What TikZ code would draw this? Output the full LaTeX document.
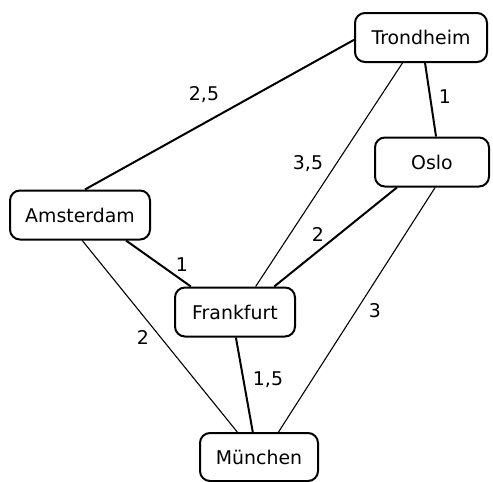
\documentclass[tikz,border=0pt]{standalone}
\usepackage{fontspec}
\setmainfont{DejaVu Sans}
\usepackage{tikz}
\usetikzlibrary{positioning}

\begin{document}
\begin{tikzpicture}[
  x={(0.5pt,0pt)},
  y={(0pt,-0.5pt)},
  city/.style={draw, line width=1pt, rounded corners=5pt, minimum height=24.5pt,
    inner sep=0pt, font=\fontsize{9.45}{11}\selectfont},
  fat/.style={line width=1pt},
  slim/.style={line width=0.55pt},
  wt/.style={font=\fontsize{9.45}{11}\selectfont, inner sep=0pt}
]
\useasboundingbox (0,0) rectangle (493,482);

\node[city, minimum width=66pt] (tro) at (421,37.5) {Trondheim};
\node[city, minimum width=57pt] (osl) at (432,162) {Oslo};
\node[city, minimum width=70pt] (ams) at (80,215) {Amsterdam};
\node[city, minimum width=60pt] (fra) at (235,312) {Frankfurt};
\node[city, minimum width=59pt, minimum height=24pt] (mun) at (259,457) {München};

% thick connections
\draw[fat] (ams.79) -- (tro.182);
\draw[fat] (tro.-81) -- (osl.81);
\draw[fat] (osl.-144) -- (fra.33);
\draw[fat] (ams.-29) -- (fra.150);
\draw[fat] (fra.-88) -- (mun.104);
% thin connections
\draw[slim] (tro.-126) -- (fra.51);
\draw[slim] (ams.-85) -- (mun.131);
\draw[slim] (osl.-83) -- (mun.52);

\node[wt] (w-ams-tro) at (204,95) {2,5};
\node[wt] (w-tro-osl) at (445,97) {1};
\node[wt] (w-tro-fra) at (308,164) {3,5};
\node[wt] (w-osl-fra) at (318,234) {2};
\node[wt] (w-ams-fra) at (182,265) {1};
\node[wt] (w-ams-mun) at (143,337) {2};
\node[wt] (w-fra-mun) at (268,380) {1,5};
\node[wt] (w-osl-mun) at (375,311) {3};
\end{tikzpicture}
\end{document}
